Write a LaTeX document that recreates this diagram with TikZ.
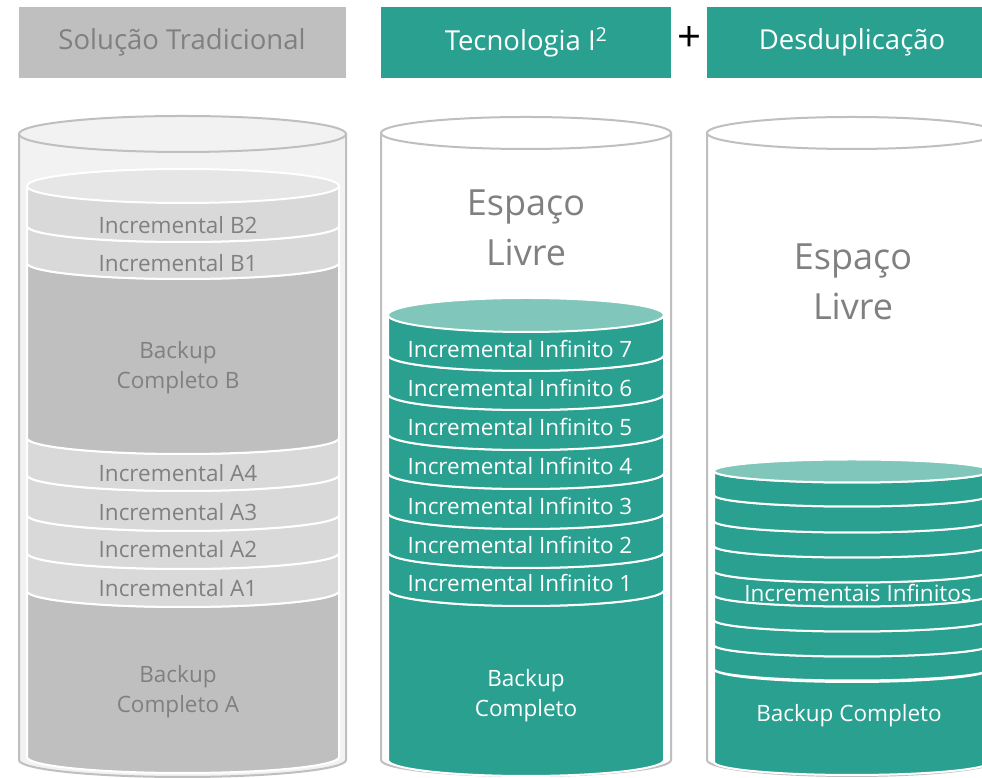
\documentclass[tikz,border=0pt]{standalone}
\usepackage{fontspec}
\setmainfont{Open Sans}
\definecolor{teal1}{HTML}{2AA190}
\definecolor{tealtop}{HTML}{80C6BB}
\definecolor{gborder}{HTML}{BFBFBF}
\definecolor{gouter}{HTML}{F2F2F2}
\definecolor{gtop}{HTML}{E6E6E6}
\definecolor{gband}{HTML}{D9D9D9}
\definecolor{gbig}{HTML}{BFBFBF}
\definecolor{gtext}{HTML}{808080}
\newcommand\cyllayer[6]{%
  \pgfmathsetmacro\myrx{(#2-#1)/2}%
  \filldraw[fill=#6,draw=white,line width=2pt,line join=round] (#1,778-#3) -- (#1,778-#4)
    arc[start angle=180,end angle=360,x radius=\myrx,y radius=#5] -- (#2,778-#3)
    arc[start angle=0,end angle=-180,x radius=\myrx,y radius=#5] -- cycle;}
\newcommand\cyltop[5]{%
  \pgfmathsetmacro\myrx{(#2-#1)/2}%
  \filldraw[fill=#5,draw=white,line width=2pt] ({(#1+#2)/2},778-#3) ellipse[x radius=\myrx,y radius=#4];}
\newcommand\outercyl[7]{% xl xr ytop rytop ybot rybot fill
  \pgfmathsetmacro\myrx{(#2-#1)/2}%
  \filldraw[fill=#7,draw=gborder,line width=2pt] (#1,778-#3) -- (#1,778-#5)
    arc[start angle=180,end angle=360,x radius=\myrx,y radius=#6] -- (#2,778-#3) -- cycle;
  \filldraw[fill=#7,draw=gborder,line width=2pt] ({(#1+#2)/2},778-#3) ellipse[x radius=\myrx,y radius=#4];}
\tikzset{
  hdr/.style={font=\fontsize{27.5}{32}\selectfont},
  lbl/.style={font=\fontsize{22.5}{30}\selectfont,align=center,inner sep=0pt},
  big/.style={font=\fontsize{36}{50}\selectfont,align=center,inner sep=0pt,text=gtext},
}
\begin{document}
\begin{tikzpicture}[x=1pt,y=1pt]
\clip (0,0) rectangle (982,778);
\fill[white] (0,0) rectangle (982,778);
% headers
\fill[gborder] (19,778-7) rectangle (346,778-78);
\node[hdr,text=gtext] (h1) at (182,778-42) {Solução Tradicional};
\fill[teal1] (381,778-7) rectangle (671,778-78);
\node[hdr,text=white] (h2) at (526,778-42) {Tecnologia I\textsuperscript{2}};
\node[font=\fontsize{42}{44}\selectfont,inner sep=0pt] (plus) at (689,778-39) {+};
\fill[teal1] (707,778-7) rectangle (997,778-78);
\node[hdr,text=white] (h3) at (852,778-42) {Desduplicação};
% cylinder 1
\outercyl{19}{346}{134}{18}{760}{17}{gouter}
\cyllayer{27}{339}{591}{757}{16}{gbig}
\cyllayer{27}{339}{553}{591}{16}{gband}
\cyllayer{27}{339}{515}{553}{16}{gband}
\cyllayer{27}{339}{475}{515}{16}{gband}
\cyllayer{27}{339}{438}{475}{16}{gband}
\cyllayer{27}{339}{263}{438}{16}{gbig}
\cyllayer{27}{339}{226}{263}{16}{gband}
\cyllayer{27}{339}{186}{226}{16}{gband}
\cyltop{27}{339}{186}{17}{gtop}
\begin{scope}[every node/.style={lbl,text=gtext}]
\node (b2) at (178,778-225) {Incremental B2};
\node (b1) at (178,778-263) {Incremental B1};
\node (bb) at (178,778-368) {Backup\\Completo B};
\node (a4) at (178,778-473) {Incremental A4};
\node (a3) at (178,778-512) {Incremental A3};
\node (a2) at (178,778-549) {Incremental A2};
\node (a1) at (178,778-588) {Incremental A1};
\node (ba) at (178,778-692) {Backup\\Completo A};
\end{scope}
% cylinder 2
\outercyl{381}{671}{133}{16}{760}{16}{white}
\cyllayer{388}{664}{590}{760}{16}{teal1}
\cyllayer{388}{664}{552}{590}{16}{teal1}
\cyllayer{388}{664}{513}{552}{16}{teal1}
\cyllayer{388}{664}{473}{513}{16}{teal1}
\cyllayer{388}{664}{434}{473}{16}{teal1}
\cyllayer{388}{664}{394}{434}{16}{teal1}
\cyllayer{388}{664}{355}{394}{16}{teal1}
\cyllayer{388}{664}{315}{355}{16}{teal1}
\cyltop{388}{664}{315}{17}{tealtop}
\node[big] (e2) at (526,778-228) {Espaço\\Livre};
\begin{scope}[every node/.style={lbl,text=white}]
\node (i7) at (520,778-349) {Incremental Infinito 7};
\node (i6) at (520,778-388) {Incremental Infinito 6};
\node (i5) at (520,778-427) {Incremental Infinito 5};
\node (i4) at (520,778-466) {Incremental Infinito 4};
\node (i3) at (520,778-506) {Incremental Infinito 3};
\node (i2) at (520,778-545) {Incremental Infinito 2};
\node (i1) at (520,778-583) {Incremental Infinito 1};
\node (bc2) at (526,778-696) {Backup\\Completo};
\end{scope}
% cylinder 3
\outercyl{707}{997}{133}{16}{760}{16}{white}
\cyllayer{714}{990}{669}{762}{13}{teal1}
\cyllayer{714}{990}{645}{669}{11.5}{teal1}
\cyllayer{714}{990}{620}{645}{11.5}{teal1}
\cyllayer{714}{990}{595}{620}{11.5}{teal1}
\cyllayer{714}{990}{571}{595}{11.5}{teal1}
\cyllayer{714}{990}{546}{571}{11.5}{teal1}
\cyllayer{714}{990}{521}{546}{11.5}{teal1}
\cyllayer{714}{990}{495}{521}{11.5}{teal1}
\cyllayer{714}{990}{471}{495}{11.5}{teal1}
\cyltop{714}{990}{471}{11.5}{tealtop}
\node[big] (e3) at (853,778-282) {Espaço\\Livre};
\begin{scope}[every node/.style={lbl,text=white}]
\node (ii) at (858,778-593) {Incrementais Infinitos};
\node (bc3) at (849,778-716) {Backup Completo};
\end{scope}
\end{tikzpicture}
\end{document}
